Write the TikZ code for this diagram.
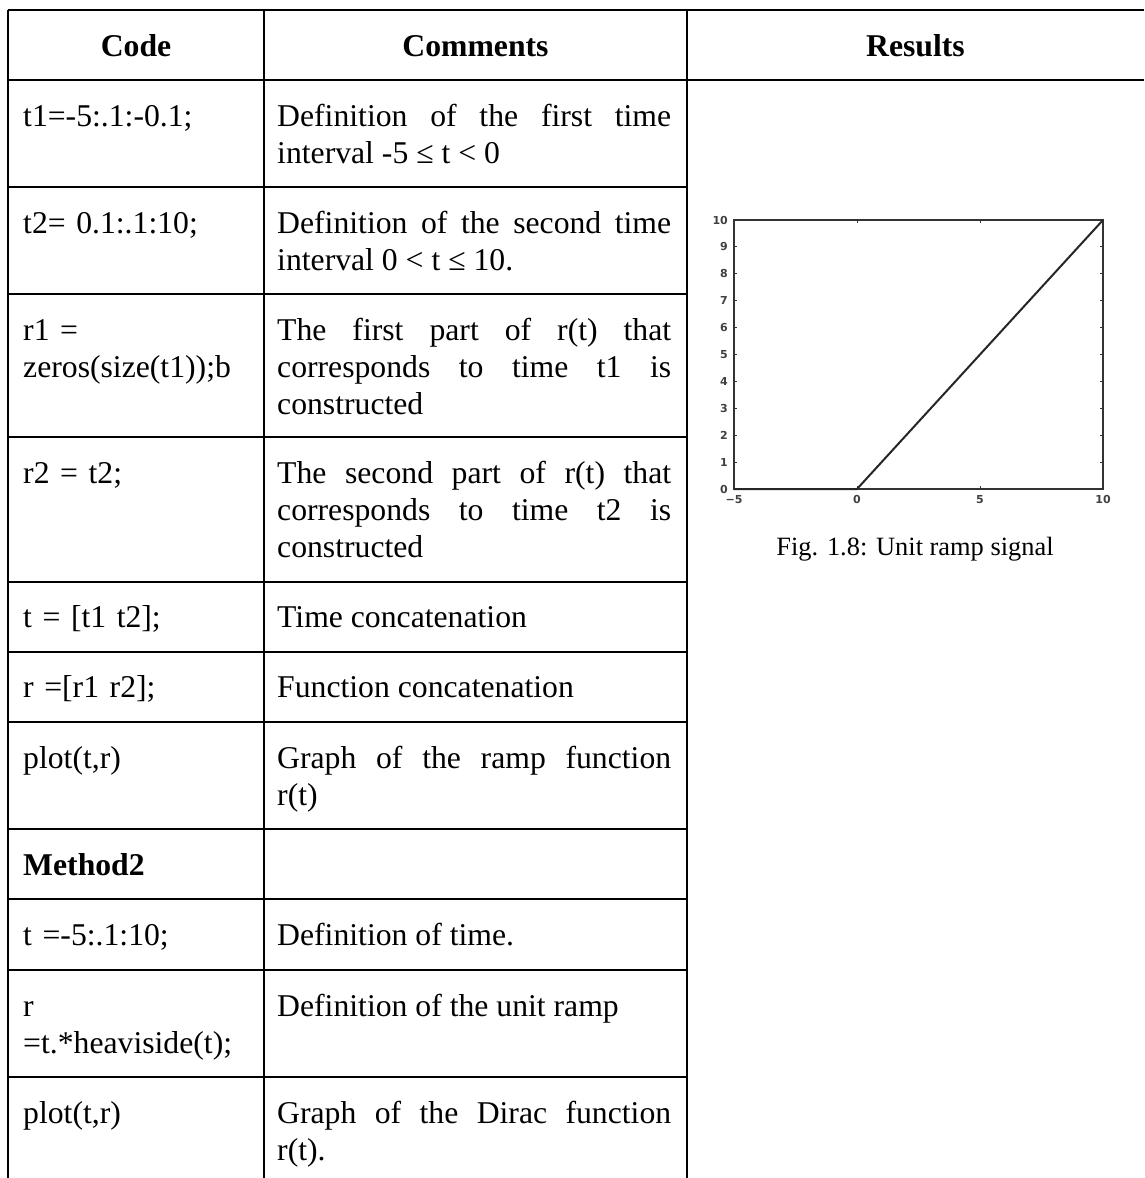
\documentclass[tikz,border=0pt]{standalone}
\usepackage{fontspec}
\setmainfont{Liberation Serif}
\newfontfamily\plotfont{DejaVu Sans}
\usetikzlibrary{positioning}

\begin{document}
\begin{tikzpicture}[x=1pt, y=-1pt,
    rule/.style={line width=2pt},
    head/.style={font=\fontsize{31.7}{37}\selectfont\bfseries, anchor=base, inner sep=0pt},
    code/.style={font=\fontsize{31.7}{37}\selectfont, anchor=base west, inner sep=0pt, text width=240pt, align=left},
    note/.style={font=\fontsize{31.7}{37}\selectfont, anchor=base west, inner sep=0pt, text width=394pt, align=justify},
    ticklabel/.style={font=\plotfont\fontsize{11}{12}\selectfont\bfseries, inner sep=1pt, black!75}]
        \useasboundingbox (0,0) rectangle (1144,1178);
        % Table frame
        \draw [rule] (8,10) -- (1144,10);
        \draw [rule] (8,80) -- (1144,80);
        \draw [rule] (8,10) -- (8,1178);
        \draw [rule] (264,10) -- (264,1178);
        \draw [rule] (687,10) -- (687,1178);
        \draw [rule] (8,187) -- (687,187);
        \draw [rule] (8,294) -- (687,294);
        \draw [rule] (8,437) -- (687,437);
        \draw [rule] (8,582) -- (687,582);
        \draw [rule] (8,652) -- (687,652);
        \draw [rule] (8,722) -- (687,722);
        \draw [rule] (8,829) -- (687,829);
        \draw [rule] (8,899) -- (687,899);
        \draw [rule] (8,970) -- (687,970);
        \draw [rule] (8,1077) -- (687,1077);
        % Header row
        \node [head] (hcode) at (136,56) {Code};
        \node [head] (hcomments) at (475.5,56) {Comments};
        \node [head] (hresults) at (915.5,56) {Results};
        % Method 1
        \node [code] (c1) at (23,126) {t1=-5:.1:-0.1;};
        \node [note] (n1) at (277,126) {Definition of the first time\linebreak interval -5 ≤ t < 0};
        \node [code] (c2) at (23,233) {t2= 0.1:.1:10;};
        \node [note] (n2) at (277,233) {Definition of the second time\linebreak interval 0 < t ≤ 10.};
        \node [code] (c3) at (23,340) {r1 =\\zeros(size(t1));b};
        \node [note] (n3) at (277,340) {The first part of r(t) that\linebreak corresponds to time t1 is\linebreak constructed};
        \node [code] (c4) at (23,483) {r2 = t2;};
        \node [note] (n4) at (277,483) {The second part of r(t) that\linebreak corresponds to time t2 is\linebreak constructed};
        \node [code] (c5) at (23,627) {t = [t1 t2];};
        \node [note] (n5) at (277,627) {Time concatenation};
        \node [code] (c6) at (23,697) {r =[r1 r2];};
        \node [note] (n6) at (277,697) {Function concatenation};
        \node [code] (c7) at (23,768) {plot(t,r)};
        \node [note] (n7) at (277,768) {Graph of the ramp function\linebreak r(t)};
        % Method 2
        \node [code] (c8) at (23,875) {\textbf{Method2}};
        \node [code] (c9) at (23,945) {t =-5:.1:10;};
        \node [note] (n9) at (277,945) {Definition of time.};
        \node [code] (c10) at (23,1016) {r\\=t.*heaviside(t);};
        \node [note] (n10) at (277,1016) {Definition of the unit ramp};
        \node [code] (c11) at (23,1123) {plot(t,r)};
        \node [note] (n11) at (277,1123) {Graph of the Dirac function\linebreak r(t).};
        % Ramp plot
        \draw [line width=1.5pt, black!80] (734,220) rectangle (1103,489);
        \foreach \k in {0,...,10} {
            \draw [line width=1pt, black!80] (734,{489-26.9*\k}) -- +(3,0);
            \draw [line width=1pt, black!80] (1103,{489-26.9*\k}) -- +(-3,0);
            \node [ticklabel, anchor=east] (ylab\k) at (729,{489-26.9*\k}) {\k};
        }
        \foreach \v/\px in {−5/734, 0/857, 5/980, 10/1103} {
            \draw [line width=1pt, black!80] (\px,489) -- +(0,-3);
            \draw [line width=1pt, black!80] (\px,220) -- +(0,3);
            \node [ticklabel, anchor=north] at (\px,494) {\v};
        }
        \draw [line width=2pt, black!85] (734,489) -- (857,489) -- (1103,220);
        \node [font=\fontsize{26.4}{30}\selectfont, anchor=base] (caption) at (915,555) {Fig. 1.8: Unit ramp signal};
\end{tikzpicture}
\end{document}
